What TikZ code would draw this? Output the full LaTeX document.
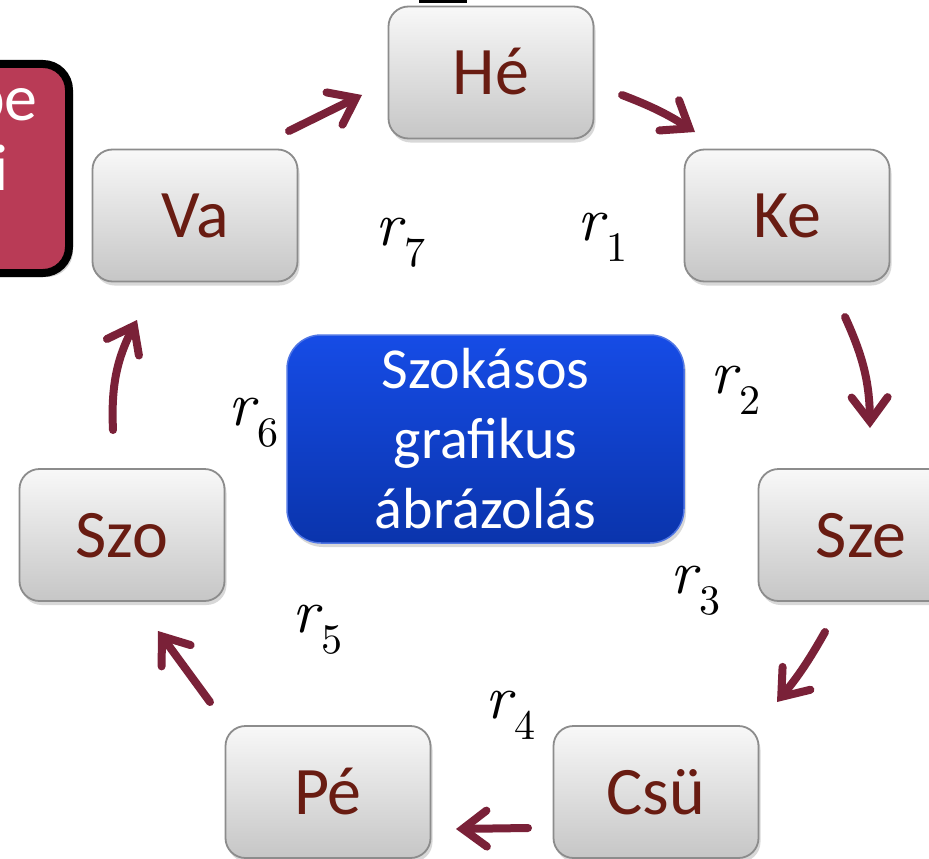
\documentclass[tikz,border=0pt]{standalone}
\usepackage{fontspec}
\setmainfont{Carlito}
\newfontfamily\lmr{lmroman10}[Extension=.otf, UprightFont=*-regular, ItalicFont=*-italic, BoldFont=*-bold, BoldItalicFont=*-bolditalic]
\usetikzlibrary{arrows.meta,shadows}
\definecolor{boxtext}{RGB}{105,28,18}
\definecolor{arrowc}{RGB}{122,33,56}
\definecolor{redfill}{RGB}{185,59,86}
\definecolor{bluetop}{RGB}{22,76,230}
\definecolor{bluebot}{RGB}{10,52,172}
\definecolor{blueedge}{RGB}{80,118,228}
\definecolor{graytop}{RGB}{248,248,248}
\definecolor{graybot}{RGB}{198,198,198}
\definecolor{grayedge}{RGB}{140,140,140}
\newcommand{\rlab}[1]{{\lmr\itshape r}\kern3pt\raisebox{-21pt}{\fontsize{42}{42}\selectfont\lmr #1}}
\begin{document}
\begin{tikzpicture}[x=1pt,y=1pt,
 stagebox/.style={rectangle, rounded corners=20pt, draw=grayedge, line width=1.8pt,
   top color=graytop, bottom color=graybot, minimum width=205pt, minimum height=132pt,
   inner sep=0pt, text=boxtext, font=\fontsize{68}{70}\selectfont,
   text height=44pt, text depth=0pt,
   drop shadow={opacity=0.3, shadow xshift=2pt, shadow yshift=-4pt}},
 bluebox/.style={rectangle, rounded corners=34pt, draw=blueedge, line width=1.5pt,
   top color=bluetop, bottom color=bluebot, minimum width=397pt, minimum height=208pt,
   inner sep=0pt, text=white, align=center, font=\fontsize{58}{70}\selectfont,
   drop shadow={opacity=0.3, shadow xshift=2pt, shadow yshift=-4pt}},
 redbox/.style={rectangle, rounded corners=26pt, draw=black, line width=8pt, fill=redfill,
   minimum width=268pt, minimum height=209pt, inner sep=0pt,
   drop shadow={opacity=0.35, shadow xshift=4pt, shadow yshift=-4pt}},
 redtext/.style={anchor=base east, inner sep=0pt, text=white, font=\fontsize{66}{70}\selectfont},
 flow/.style={line width=8pt, color=arrowc, line cap=round,
   -{Straight Barb[length=24pt,width=36pt,line cap=round]}},
 rlabel/.style={anchor=base west, inner sep=0pt, font=\fontsize{62}{62}\selectfont}
]
\useasboundingbox (0,0) rectangle (929,-859);
\fill[white] (0,0) rectangle (929,-859);

% partially visible box on the left
\node[redbox] (red) at (-65,-168.5) {};
\node[redtext] (redA) at (38,-120) {pe};
\node[redtext] (redB) at (9,-190) {i};

% fragment at top
\fill[black] (419,0) rectangle (467,-3);

% stage boxes
\node[stagebox] (he)  at (491,-72.5) {Hé};
\node[stagebox] (ke)  at (787,-215.5) {Ke};
\node[stagebox] (sze) at (861,-535) {Sze};
\node[stagebox] (csu) at (656,-792) {Csü};
\node[stagebox] (pe)  at (328,-792) {Pé};
\node[stagebox] (szo) at (122,-535) {Szo};
\node[stagebox] (va)  at (195,-215.5) {Va};

% centre box
\node[bluebox] (mid) at (485.5,-439) {Szokásos\\grafikus\\ábrázolás};

% arrows
\coordinate (a1s) at (289,-131); \coordinate (a1e) at (362,-95);
\coordinate (a2s) at (622,-95);  \coordinate (a2e) at (695,-132);
\coordinate (a3s) at (845,-317); \coordinate (a3e) at (870,-428);
\coordinate (a4s) at (825,-632); \coordinate (a4e) at (777,-702);
\coordinate (a5s) at (528,-828); \coordinate (a5e) at (456,-829);
\coordinate (a6s) at (210,-702); \coordinate (a6e) at (158,-631);
\coordinate (a7s) at (113,-430); \coordinate (a7e) at (137,-320);
\draw[flow] (a1s) -- (a1e);
\draw[flow] (a2s) to[bend left=6] (a2e);
\draw[flow] (a3s) to[bend left=12] (a3e);
\draw[flow] (a4s) to[bend left=5] (a4e);
\draw[flow] (a5s) -- (a5e);
\draw[flow] (a6s) -- (a6e);
\draw[flow] (a7s) to[bend left=15] (a7e);

% labels
\node[rlabel] (r7) at (375,-245) {\rlab{7}};
\node[rlabel] (r1) at (577,-240) {\rlab{1}};
\node[rlabel] (r2) at (710,-393) {\rlab{2}};
\node[rlabel] (r6) at (228,-425) {\rlab{6}};
\node[rlabel] (r3) at (670,-593) {\rlab{3}};
\node[rlabel] (r5) at (292,-632) {\rlab{5}};
\node[rlabel] (r4) at (485,-718) {\rlab{4}};
\end{tikzpicture}
\end{document}
